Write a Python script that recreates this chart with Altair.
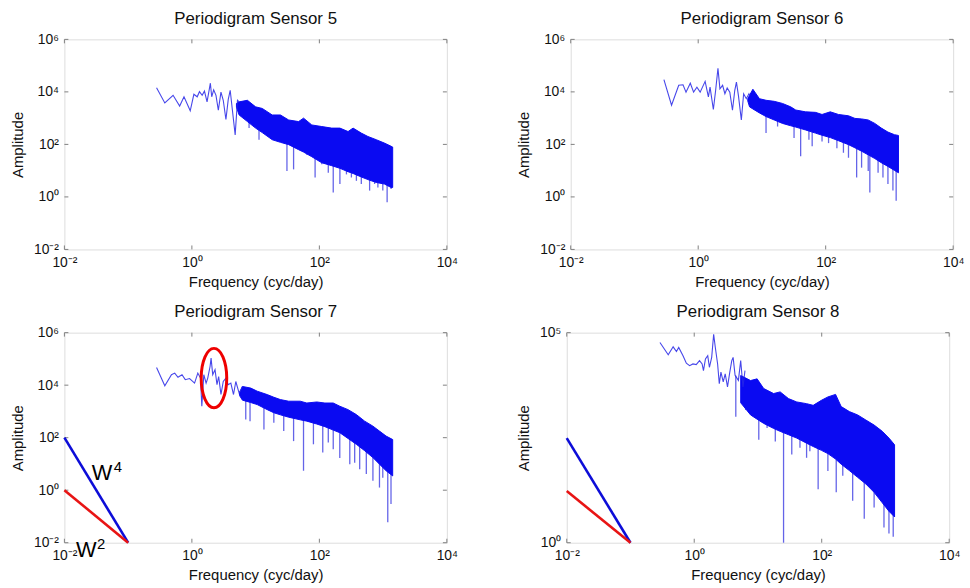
import math
import altair as alt
import pandas as pd

FONT = "Liberation Sans"
TXT = "#111111"
FRAME = "#808080"
LINE_BLUE = "#2626e6"
BAND_BLUE = "#0a0af2"
SPIKE_BLUE = "#3030e0"

X_TICKS = [0.01, 1, 100, 10000]
Y_TICKS = [0.01, 1, 100, 1e4, 1e6]
Y_TICKS_8 = [1, 1e5]

# ---------------- Sensor 5 ----------------
s5_f = [0.279, 0.376, 0.507, 0.643, 0.752, 0.942, 1.074, 1.211, 1.315, 1.449, 1.574, 1.730,
        1.950, 2.046, 2.198, 2.388, 2.600, 2.858, 3.105, 3.420, 3.715, 3.990, 4.236, 4.775,
        5.19, 5.51]
s5_a = [14500, 3800, 7400, 2900, 6500, 1900, 8100, 6500, 10200, 7400, 10700, 4200,
        21400, 6500, 12000, 7400, 2000, 9800, 4800, 890, 5100, 11500, 3100, 230,
        4800, 4170]
b5_f = [5.0, 5.51, 7.43, 10.0, 12.7, 18.2, 24.5, 33.0, 47.2, 56.5, 76.0, 109, 156, 210, 282,
        338, 455, 578, 780, 1050, 1334, 1413]
b5_up = [3600, 4170, 4790, 2690, 2340, 1320, 1320, 850, 740, 1000, 550, 479, 417, 417, 309,
         417, 269, 200, 151, 112, 85, 79]
b5_lo = [2600, 1320, 741, 417, 282, 151, 120, 98, 63, 51, 34, 20, 15.5, 12.3, 9.1,
         7.8, 5.75, 4.57, 3.55, 3.09, 2.29, 2.29]
k5_f = [7.89, 11.3, 31.0, 39.4, 63.5, 85.7, 109, 138, 165, 210, 266, 318, 381, 455, 614,
        735, 828, 989, 1156, 1334]
k5_lo = [417, 151, 9.8, 11.2, 40.7, 5.5, 17.4, 8.3, 1.48, 3.1, 7.2, 5.5, 4.1, 3.1, 1.74,
         3.1, 2.29, 1.74, 0.63, 2.0]
k5_hi = [1260, 630, 200, 158, 100, 63, 40, 32, 28, 25, 20, 16, 14, 11, 9,
         7, 7, 6.3, 5, 4.5]

# ---------------- Sensor 6 ----------------
s6_f = [0.290, 0.382, 0.495, 0.578, 0.644, 0.752, 0.847, 0.955, 1.074, 1.285, 1.445, 1.535,
        1.730, 1.879, 2.042, 2.193, 2.415, 2.624, 2.851, 3.133, 3.451, 3.750, 3.981, 4.276,
        4.753, 5.164, 5.689, 6.252, 6.40]
s6_a = [29500, 3100, 17800, 18600, 9800, 21400, 9800, 15100, 9800, 25100, 6500, 15100,
        2140, 11500, 79400, 13200, 17800, 8500, 14100, 9800, 2000, 11500, 23400, 7400,
        850, 8500, 5500, 8500, 7400]
b6_f = [6.0, 6.40, 7.21, 9.14, 11.6, 15.6, 21.0, 28.3, 33.9, 48.4, 69.2, 87.7, 118, 159, 228,
        288, 366, 465, 589, 748, 948, 1202, 1387]
b6_up = [5500, 7410, 12600, 5500, 4790, 4370, 3630, 2690, 2040, 1740, 1660, 1380, 1740, 1380,
         1230, 977, 933, 851, 631, 417, 295, 234, 219]
b6_lo = [4500, 2690, 2240, 1580, 1150, 851, 631, 513, 457, 355, 269, 224, 182, 138, 98,
         74, 55, 40, 29, 20, 14.5, 10.2, 8.3]
k6_f = [11.6, 17.6, 31.9, 40.5, 54.6, 61.4, 87.7, 111, 150, 190, 228, 306, 366, 465, 493,
        664, 792, 948, 1135, 1276]
k6_lo = [270, 480, 174, 35, 150, 85, 129, 112, 72, 48, 31, 5.5, 13, 9.8, 1.48,
         8.3, 5.5, 3.1, 1.74, 0.72]
k6_hi = [2000, 1500, 900, 700, 500, 500, 400, 250, 300, 180, 200, 140, 90, 80, 75,
         50, 35, 28, 22, 18]

# ---------------- Sensor 7 ----------------
s7_f = [0.279, 0.376, 0.478, 0.538, 0.605, 0.700, 0.787, 0.920, 1.102, 1.239, 1.365, 1.432,
        1.538, 1.671, 1.774, 1.928, 2.000, 2.123, 2.307, 2.477, 2.630, 2.858, 3.105, 3.420,
        3.715, 4.083, 4.498, 4.887, 5.508, 6.21]
s7_a = [46800, 9500, 25100, 28800, 20000, 25100, 16200, 17800, 12000, 28800, 18600, 1580,
        25100, 12000, 18600, 51300, 107000, 25100, 38900, 10500, 21400, 4400, 13800, 18600,
        10500, 12000, 4400, 13800, 5000, 8910]
b7_f = [5.6, 6.21, 8.36, 10.6, 15.2, 19.3, 24.5, 33.0, 50.1, 63.5, 91.0, 122, 165, 209, 282,
        380, 513, 692, 877, 1114, 1413]
b7_up = [5000, 8910, 7760, 5890, 4370, 3470, 2820, 2450, 2450, 2090, 2290, 2090, 2090, 1580,
         1170, 759, 427, 275, 178, 115, 85]
b7_lo = [4000, 2690, 2190, 1820, 1170, 891, 741, 603, 479, 427, 331, 263, 195, 155, 93,
         56, 32, 17.4, 9.8, 5.5, 3.5]
k7_f = [7.0, 8.17, 13.5, 19.3, 27.6, 39.4, 56.4, 80.7, 113, 138, 165, 209, 300, 358, 429,
        545, 692, 877, 988, 1183, 1330]
k7_lo = [490, 427, 204, 372, 178, 74, 5.5, 56, 27, 65, 36, 17, 9.8, 11, 6.3,
         4.1, 2.3, 1.26, 3.0, 0.060, 0.30]
k7_hi = [2500, 2500, 1500, 1300, 900, 700, 550, 450, 350, 300, 260, 200, 130, 90, 75,
         45, 30, 18, 14, 9, 7]

# ---------------- Sensor 8 ----------------
s8_f = [0.290, 0.391, 0.467, 0.526, 0.571, 0.667, 0.752, 0.847, 0.955, 1.074, 1.211, 1.330,
        1.396, 1.500, 1.629, 1.730, 1.879, 2.018, 2.143, 2.328, 2.472, 2.624, 2.851, 3.062,
        3.327, 3.614, 3.882, 4.074, 4.375, 4.932, 5.358, 5.821, 6.252]
s8_a = [58200, 29900, 46000, 35700, 44400, 28200, 18700, 16400, 18000, 17400, 21600, 18000,
        12500, 23600, 28200, 15000, 25800, 91400, 44400, 18000, 6100, 11500, 6700, 10500,
        5100, 11500, 21600, 25800, 9600, 7300, 21600, 5100, 12500]
b8_f = [5.36, 7.66, 9.70, 12.3, 17.6, 22.3, 30.1, 40.6, 57.9, 73.5, 98.9, 125, 165, 202,
        272, 366, 493, 664, 893, 1135, 1390]
b8_up = [9550, 7240, 7940, 4680, 3550, 3890, 2690, 2240, 2040, 1860, 2450, 2950, 3390, 1740,
         1320, 1100, 832, 631, 447, 309, 214]
b8_lo = [2140, 1100, 871, 692, 525, 447, 372, 309, 234, 195, 158, 132, 98, 74,
         52, 36, 25, 15.8, 8.9, 5.6, 4.1]
k8_f = [4.49, 6.41, 10.3, 13.9, 18.7, 25.2, 33.9, 45.6, 57.9, 65.2, 87.9, 125, 169, 214,
        306, 465, 664, 948, 1135, 1324]
k8_lo = [1000, 1450, 282, 537, 257, 1.0, 126, 182, 105, 151, 18.6, 51, 15.8, 39,
         10, 3.7, 6.9, 2.3, 1.66, 1.38]
k8_hi = [9600, 5000, 1500, 1200, 900, 800, 700, 500, 400, 400, 300, 250, 200, 150,
         100, 60, 30, 15, 11, 8]

# ---------------- slope guides (W^4, W^2) ----------------
guide_f = [0.01, 0.1]
w4_amp_7 = [100, 0.01]
w2_amp_7 = [1, 0.01]
w4_amp_8 = [308, 1]
w2_amp_8 = [16.9, 1]

# annotations (panel 7)
ann_text = ["W", "4", "W", "2"]
ann_f = [0.039, 0.069, 0.022, 0.0376]
ann_a = [4.3, 7.9, 0.0052, 0.0089]
ann_size = [22, 15, 22, 15]

# highlighted peak (panel 7)
peak_f = [2.22]
peak_a = [18600]

W, H = 386, 212
SUP = {"-": "\u207b", "0": "\u2070", "1": "\u00b9", "2": "\u00b2", "3": "\u00b3",
       "4": "\u2074", "5": "\u2075", "6": "\u2076"}


def sup(n):
    return "".join(SUP[c] for c in str(n))


def label_expr(ticks):
    expr = "''"
    for t in reversed(ticks):
        e = int(round(math.log10(t)))
        expr = f"(datum.value > {t*0.9} && datum.value < {t*1.1}) ? '10{sup(e)}' : {expr}"
    return expr


def panel(title, sf, sa, bf, bup, blo, kf, klo, khi, ydom, yticks, extras=()):
    xs = alt.Scale(type="log", domain=[0.01, 10000], nice=False)
    ys = alt.Scale(type="log", domain=ydom, nice=False)
    xax = alt.Axis(values=X_TICKS, labelExpr=label_expr(X_TICKS), title="Frequency (cyc/day)",
                   grid=False, ticks=False, domain=False, labelPadding=6, titlePadding=5,
                   labelFontSize=14, titleFontSize=15, labelFlush=False, labelOverlap=False,
                   labelColor=TXT, titleColor=TXT, titleFontWeight="normal")
    yax = alt.Axis(values=yticks, labelExpr=label_expr(yticks), title="Amplitude",
                   grid=False, ticks=False, domain=False, labelPadding=6, titlePadding=8,
                   labelFontSize=14, titleFontSize=15, labelFlush=False, labelOverlap=False,
                   labelColor=TXT, titleColor=TXT, titleFontWeight="normal")
    X = lambda f: alt.X(f"{f}:Q", scale=xs, axis=xax)
    Y = lambda f: alt.Y(f"{f}:Q", scale=ys, axis=yax)

    band = alt.Chart(pd.DataFrame({"f": bf, "up": bup, "lo": blo})).mark_area(
        color=BAND_BLUE, opacity=1, stroke=BAND_BLUE, strokeWidth=1
    ).encode(x=X("f"), y=Y("up"), y2="lo:Q")
    spikes = alt.Chart(pd.DataFrame({"f": kf, "lo": klo, "hi": khi})).mark_rule(
        color=SPIKE_BLUE, strokeWidth=1.3, opacity=0.75
    ).encode(x=X("f"), y=Y("lo"), y2="hi:Q")
    line = alt.Chart(pd.DataFrame({"f": sf, "a": sa})).mark_line(
        color=LINE_BLUE, strokeWidth=1.1, opacity=0.85
    ).encode(x=X("f"), y=Y("a"))

    xt = pd.DataFrame({"v": X_TICKS})
    yt = pd.DataFrame({"v": yticks})
    tk = dict(color=FRAME, strokeWidth=1)
    t_bot = alt.Chart(xt).mark_rule(**tk).encode(x=X("v"), y=alt.value(H), y2=alt.value(H - 4))
    t_top = alt.Chart(xt).mark_rule(**tk).encode(x=X("v"), y=alt.value(0), y2=alt.value(4))
    t_lft = alt.Chart(yt).mark_rule(**tk).encode(y=Y("v"), x=alt.value(0), x2=alt.value(4))
    t_rgt = alt.Chart(yt).mark_rule(**tk).encode(y=Y("v"), x=alt.value(W), x2=alt.value(W - 4))

    layers = [spikes, band, line, t_bot, t_top, t_lft, t_rgt]
    for ex in extras:
        layers.append(ex(X, Y))
    return alt.layer(*layers).properties(
        width=W, height=H,
        title=alt.Title(title, fontSize=17, font=FONT, fontWeight="normal", color=TXT,
                        anchor="middle", offset=5),
    )


def guides(w4, w2):
    def blue(X, Y):
        return alt.Chart(pd.DataFrame({"f": guide_f, "a": w4})).mark_line(
            color="#0d0dd8", strokeWidth=2.6).encode(x=X("f"), y=Y("a"))

    def red(X, Y):
        return alt.Chart(pd.DataFrame({"f": guide_f, "a": w2})).mark_line(
            color="#e81414", strokeWidth=2.6).encode(x=X("f"), y=Y("a"))
    return [blue, red]


def annotations(X, Y):
    return alt.Chart(pd.DataFrame({"t": ann_text, "f": ann_f, "a": ann_a, "s": ann_size})).mark_text(
        color="#000000", font=FONT, align="center", baseline="middle"
    ).encode(x=X("f"), y=Y("a"), text="t:N",
             size=alt.Size("s:Q", scale=None, legend=None))


ELLIPSE = "M 0 -1 A 0.43 1 0 1 1 0 1 A 0.43 1 0 1 1 0 -1 Z"


def ring(X, Y):
    return alt.Chart(pd.DataFrame({"f": peak_f, "a": peak_a})).mark_point(
        shape=ELLIPSE, size=3600, filled=False, color="#ee0000", strokeWidth=3, opacity=1
    ).encode(x=X("f"), y=Y("a"))


p5 = panel("Periodigram Sensor 5", s5_f, s5_a, b5_f, b5_up, b5_lo, k5_f, k5_lo, k5_hi,
           [0.01, 1e6], Y_TICKS)
p6 = panel("Periodigram Sensor 6", s6_f, s6_a, b6_f, b6_up, b6_lo, k6_f, k6_lo, k6_hi,
           [0.01, 1e6], Y_TICKS)
p7 = panel("Periodigram Sensor 7", s7_f, s7_a, b7_f, b7_up, b7_lo, k7_f, k7_lo, k7_hi,
           [0.01, 1e6], Y_TICKS, extras=guides(w4_amp_7, w2_amp_7) + [annotations, ring])
p8 = panel("Periodigram Sensor 8", s8_f, s8_a, b8_f, b8_up, b8_lo, k8_f, k8_lo, k8_hi,
           [1, 1e5], Y_TICKS_8, extras=guides(w4_amp_8, w2_amp_8))

chart = alt.vconcat(
    alt.hconcat(p5, p6, spacing=58),
    alt.hconcat(p7, p8, spacing=58),
    spacing=12,
).properties(
    padding={"left": 10, "top": 6, "right": 5, "bottom": 5},
    background="white",
).configure_view(
    stroke=FRAME, strokeWidth=1
).configure(
    font=FONT
)

chart.save("out.html", embed_options={"renderer": "svg", "actions": False})
